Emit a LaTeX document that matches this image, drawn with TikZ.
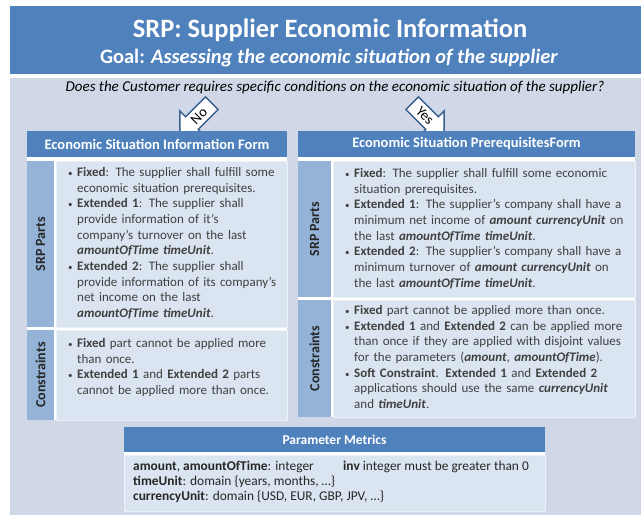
\documentclass[tikz,border=0pt]{standalone}
\usepackage{fontspec}
\setmainfont{Carlito}
\usetikzlibrary{shapes.arrows}

\definecolor{hblue}{RGB}{79,129,189}
\definecolor{sblue}{RGB}{149,179,215}
\definecolor{bblue}{RGB}{219,229,241}
\definecolor{pane}{RGB}{208,216,232}
\definecolor{aline}{RGB}{56,93,138}

\newlength{\itmw}
\newcommand{\itm}[1]{\noindent\makebox[9pt][l]{\small\textbullet}%
    \parbox[t]{\itmw}{\raggedright\baselineskip=15.7pt #1\rule[-4pt]{0pt}{4pt}}%
    \baselineskip=15.7pt\par\prevdepth=4pt}
\newcommand{\bi}[1]{\textbf{\textit{#1}}}

\begin{document}
\begin{tikzpicture}[x=1pt,y=-1pt,
        box/.style={anchor=north west, inner sep=0pt, outer sep=0pt},
        hdr/.style={box, fill=hblue, text=white, font=\bfseries\fontsize{14.5}{16}\selectfont},
        sidecol/.style={box, fill=sblue},
        bodybox/.style={box, fill=bblue, draw=white!45!bblue, line width=0.8pt},
        sidelabel/.style={rotate=90, font=\bfseries\fontsize{14}{16}\selectfont, text=black!85},
        txt/.style={anchor=north west, inner sep=0pt, align=left, text=black!75, font=\fontsize{13}{15.7}\selectfont},
        yesno/.style={single arrow, draw=aline, fill=white, line width=1.4pt, minimum height=45pt, inner xsep=2pt, inner ysep=3.5pt, single arrow head extend=8pt, font=\fontsize{14.5}{16}\selectfont}
        ]
            \useasboundingbox (0,0) rectangle (641,515);
            \fill[white] (0,0) rectangle (641,515);

            % title and background pane
            \node[box, fill=hblue, minimum width=631pt, minimum height=68pt] (T) at (10,6) {};
            \node[text=white, font=\bfseries\fontsize{26.5}{30}\selectfont] (T1) at (330,30) {SRP: Supplier Economic Information};
            \node[text=white, font=\bfseries\fontsize{20.5}{24}\selectfont] (T2) at (329,58) {Goal: \textit{Assessing the economic situation of the supplier}};
            \node[box, fill=pane, minimum width=631pt, minimum height=437pt] (P) at (10,78) {};
            \node[font=\itshape\fontsize{15}{17}\selectfont] (Q) at (335,87) {Does the Customer requires specific conditions on the economic situation of the supplier?};

            % answer arrows
            \node[yesno, rotate=45, shape border rotate=180] (No) at (199,116) {No};
            \node[yesno, rotate=-45] (Yes) at (425,116) {Yes};

            % left form
            \node[box, fill=white, minimum width=260pt, minimum height=289pt] (LF) at (27,131) {};
            \node[hdr, minimum width=260pt, minimum height=26pt] (LH) at (27,131) {Economic Situation Information Form};
            \node[sidecol, minimum width=27pt, minimum height=166pt] (LS1) at (27,161) {};
            \node[bodybox, minimum width=231pt, minimum height=166pt] (LB1) at (56,161) {};
            \node[sidecol, minimum width=27pt, minimum height=90pt] (LS2) at (27,330) {};
            \node[bodybox, minimum width=231pt, minimum height=90pt] (LB2) at (56,330) {};
            \node[sidelabel] at (LS1.center) {SRP Parts};
            \node[sidelabel] at (LS2.center) {Constraints};
            \setlength{\itmw}{209pt}
            \node[txt, text width=218pt] (LT1) at (68,167) {%
                \itm{\textbf{Fixed}: The supplier shall fulfill some\\economic situation prerequisites.}
                \itm{\textbf{Extended 1}: The supplier shall\\provide information of it’s\\company’s turnover on the last\\\bi{amountOfTime timeUnit}.}
                \itm{\textbf{Extended 2}: The supplier shall\\provide information of its company’s\\net income on the last\\\bi{amountOfTime timeUnit}.}};
            \node[txt, text width=218pt] (LT2) at (68,338) {%
                \itm{\textbf{Fixed} part cannot be applied more\\than once.}
                \itm{\textbf{Extended 1} and \textbf{Extended 2} parts\\cannot be applied more than once.}};

            % right form
            \node[box, fill=white, minimum width=337pt, minimum height=286pt] (RF) at (298,131) {};
            \node[hdr, minimum width=337pt, minimum height=26pt] (RH) at (298,131) {Economic Situation PrerequisitesForm};
            \node[sidecol, minimum width=33pt, minimum height=136pt] (RS1) at (298,161) {};
            \node[bodybox, minimum width=302pt, minimum height=136pt] (RB1) at (333,161) {};
            \node[sidecol, minimum width=33pt, minimum height=117pt] (RS2) at (298,300) {};
            \node[bodybox, minimum width=302pt, minimum height=117pt] (RB2) at (333,300) {};
            \node[sidelabel] at (RS1.center) {SRP Parts};
            \node[sidelabel] at (RS2.center) {Constraints};
            \setlength{\itmw}{280pt}
            \node[txt, text width=289pt] (RT1) at (345,168) {%
                \itm{\textbf{Fixed}: The supplier shall fulfill some economic\\situation prerequisites.}
                \itm{\textbf{Extended 1}: The supplier’s company shall have a\\minimum net income of \bi{amount currencyUnit} on\\the last \bi{amountOfTime timeUnit}.}
                \itm{\textbf{Extended 2}: The supplier’s company shall have a\\minimum turnover of \bi{amount currencyUnit} on\\the last \bi{amountOfTime timeUnit}.}};
            \node[txt, text width=289pt] (RT2) at (345,305) {%
                \itm{\textbf{Fixed} part cannot be applied more than once.}
                \itm{\textbf{Extended 1} and \textbf{Extended 2} can be applied more\\than once if they are applied with disjoint values\\for the parameters (\bi{amount}, \bi{amountOfTime}).}
                \itm{\textbf{Soft Constraint}. \textbf{Extended 1} and \textbf{Extended 2}\\applications should use the same \bi{currencyUnit}\\and \bi{timeUnit}.}};

            % parameter metrics
            \node[box, fill=white, minimum width=421pt, minimum height=84pt] (MF) at (124,427) {};
            \node[hdr, font=\bfseries\fontsize{13.5}{15}\selectfont, minimum width=421pt, minimum height=25pt] (MH) at (124,427) {Parameter Metrics};
            \node[bodybox, minimum width=421pt, minimum height=56pt] (MB) at (124,455) {};
            \node[txt, font=\fontsize{13.4}{15}\selectfont, text=black!85] (MT) at (133,461) {%
                \makebox[210pt][l]{\textbf{amount}, \textbf{amountOfTime}: integer}\textbf{inv} integer must be greater than 0\\
                \textbf{timeUnit}: domain \{years, months, …\}\\
                \textbf{currencyUnit}: domain \{USD, EUR, GBP, JPV, …\}};

        \end{tikzpicture}
\end{document}
